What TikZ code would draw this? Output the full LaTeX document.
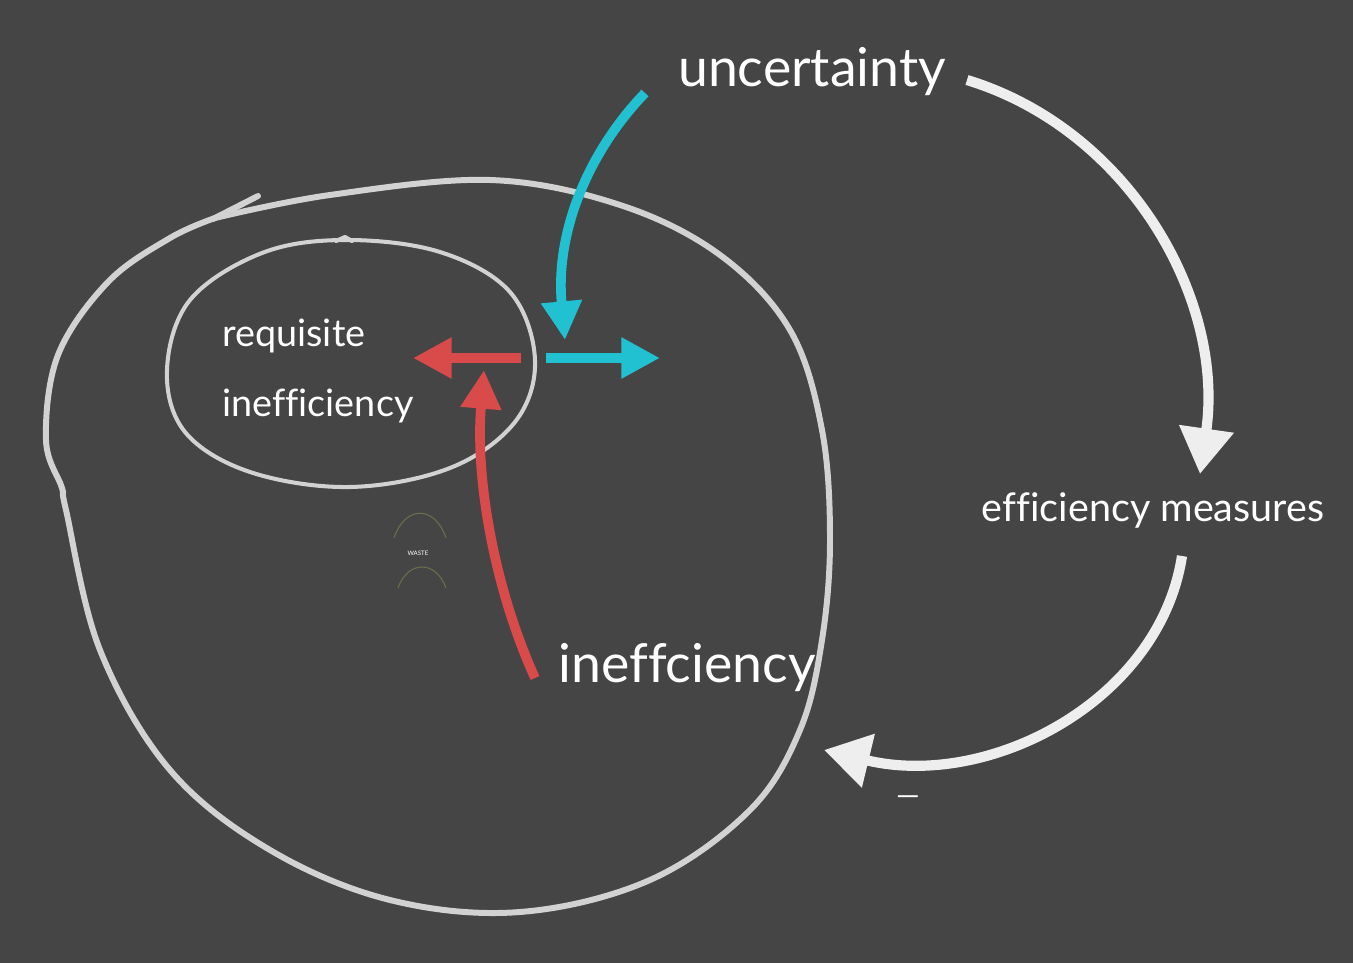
\documentclass[tikz,border=0pt]{standalone}
\usepackage{fontspec}
\setmainfont{Lato}[Ligatures=CommonOff]
\usetikzlibrary{arrows.meta}
\definecolor{board}{HTML}{454545}
\definecolor{chalk}{HTML}{D2D2D2}
\definecolor{whitechalk}{HTML}{EEEEEE}
\definecolor{cyanchalk}{HTML}{22C1D1}
\definecolor{redchalk}{HTML}{D94A4B}
\definecolor{olivechalk}{HTML}{6E6E4E}
\tikzset{
  loopline/.style={draw=chalk, line width=3.4pt, line cap=round, line join=round},
  ellline/.style={draw=chalk, line width=2.3pt, line cap=round, line join=round},
  cyanarrow/.style={draw=cyanchalk, line width=5.5pt, -{Triangle[length=22pt,width=22pt]}},
  redarrow/.style={draw=redchalk, line width=5.5pt, -{Triangle[length=22pt,width=22pt]}},
  whitearrow/.style={draw=whitechalk, line width=5.8pt, -{Triangle[length=26pt,width=30pt]}},
  bigtext/.style={text=white, font=\fontsize{30.5}{32}\selectfont, inner sep=0pt},
  midtext/.style={text=white, font=\fontsize{21.5}{23}\selectfont, inner sep=0pt},
  effext/.style={text=white, font=\fontsize{22.5}{24}\selectfont, inner sep=0pt}
}
\begin{document}
\begin{tikzpicture}[x=0.02cm,y=-0.02cm]
\useasboundingbox (0,0) rectangle (1353,963);
\fill[board] (0,0) rectangle (1353,963);

% outer loop
\draw[loopline] plot[smooth, tension=0.6] coordinates {
 (215,218) (330,195) (490,180) (620,205) (720,255) (790,330) (822,430)
 (830,540) (822,640) (800,730) (750,810) (650,880) (520,912) (390,900)
 (270,850) (170,770) (100,650) (66,510) (62,488) (46,440) (58,355)
 (108,282) (170,238) (215,218)};
\draw[loopline] (213,219) -- (258,196);

% inner ellipse
\draw[ellline] plot[smooth cycle, tension=0.6] coordinates {
 (345,240) (440,252) (510,292) (535,360) (515,422) (450,468) (350,487)
 (250,472) (185,432) (167,370) (190,300) (262,253)};
\draw[ellline] (336,241) -- (345,237) -- (352,241);

% texts
\node[midtext, anchor=west] (req) at (222,336) {requisite};
\node[midtext, anchor=west] (ineff) at (222,406) {inefficiency};
\node[bigtext] (unc) at (812,72) {uncertainty};
\node[bigtext, anchor=west] (inf) at (558,668) {ineffciency};
\node[effext] (eff) at (1153,510) {efficiency measures};
\node[text=white, font=\fontsize{17}{17}\selectfont, inner sep=0pt] (minus) at (908,801) {—};

% tiny waste object
\draw[olivechalk, line width=0.6pt] (394,538) .. controls (405,505) and (435,505) .. (446,538);
\draw[olivechalk, line width=0.6pt] (398,588) .. controls (408,560) and (436,560) .. (446,588);
\node[text=white, font=\fontsize{3.5}{4}\selectfont, inner sep=0pt] (waste) at (418,553) {WASTE};

% coordinates for connectors
\coordinate (cstart) at (645,93);
\coordinate (cend) at (565,340);
\coordinate (chs) at (546,358);
\coordinate (che) at (660,358);
\coordinate (rhs) at (521,358);
\coordinate (rhe) at (413,358);
\coordinate (rvs) at (535,678);
\coordinate (rve) at (484,370);
\coordinate (wts) at (967,80);
\coordinate (wte) at (1200,474);
\coordinate (wbs) at (1182,556);
\coordinate (wbe) at (824,750);

\draw[cyanarrow] (cstart) .. controls (590,150) and (555,230) .. (cend);
\draw[cyanarrow] (chs) -- (che);
\draw[redarrow] (rhs) -- (rhe);
\draw[redarrow] (rvs) .. controls (495,590) and (475,480) .. (rve);
\draw[whitearrow] (wts) .. controls (1130,130) and (1225,300) .. (wte);
\draw[whitearrow] (wbs) .. controls (1160,700) and (990,790) .. (wbe);
\end{tikzpicture}
\end{document}
